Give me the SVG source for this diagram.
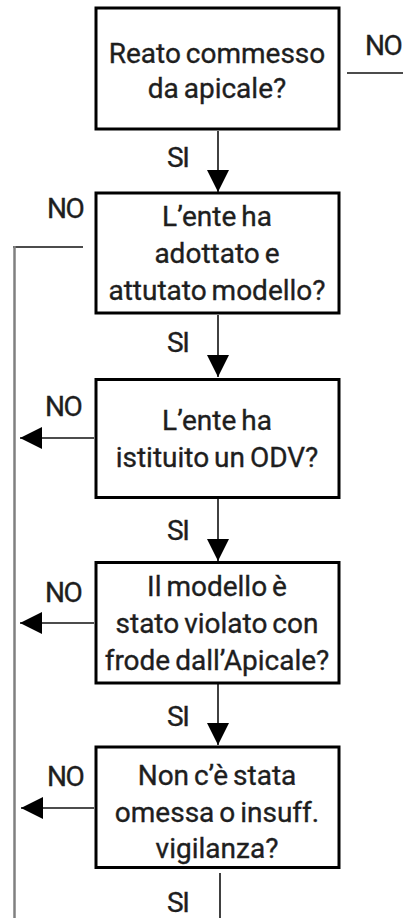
<svg xmlns="http://www.w3.org/2000/svg" width="403" height="918" viewBox="0 0 403 918">
<defs>
<style>
.box{fill:#fff;stroke:#000;stroke-width:3}
.t{font-family:Roboto,"Liberation Sans",sans-serif;font-size:28px;fill:#1e1e1e;stroke:#1e1e1e;stroke-width:0.35;text-anchor:middle;word-spacing:-2px}
.l{font-family:Roboto,"Liberation Sans",sans-serif;font-size:28px;fill:#1e1e1e;stroke:#1e1e1e;stroke-width:0.35;letter-spacing:-1.5px}
.c{stroke:#111;stroke-width:1.6;fill:none}
.g{stroke:#808080;stroke-width:2.5;fill:none}
</style>
<marker id="ah" viewBox="0 0 22 22" refX="22" refY="11" markerWidth="22" markerHeight="22" markerUnits="userSpaceOnUse" orient="auto">
<path d="M0,0 L22,11 L0,22 z" fill="#000"/>
</marker>
</defs>
<rect width="403" height="918" fill="#fff"/>
<g id="connectors">
<line class="c" x1="218" y1="131" x2="218" y2="192" marker-end="url(#ah)"/>
<line class="c" x1="218" y1="315" x2="218" y2="377" marker-end="url(#ah)"/>
<line class="c" x1="218" y1="499" x2="218" y2="561" marker-end="url(#ah)"/>
<line class="c" x1="218" y1="684" x2="218" y2="745" marker-end="url(#ah)"/>
<line class="c" x1="220" y1="873" x2="220" y2="918"/>
<line class="c" x1="94" y1="438" x2="20" y2="438" marker-end="url(#ah)"/>
<line class="c" x1="94" y1="623" x2="20" y2="623" marker-end="url(#ah)"/>
<line class="c" x1="94" y1="808" x2="21" y2="808" marker-end="url(#ah)"/>
<line class="c" x1="347" y1="73" x2="403" y2="73"/>
<line class="c" x1="13" y1="247" x2="83" y2="247"/>
<line class="g" x1="14.5" y1="246" x2="14.5" y2="918"/>
<text class="l" x="365" y="55">NO</text>
<text class="l" x="47" y="218">NO</text>
<text class="l" x="45" y="416">NO</text>
<text class="l" x="45" y="602">NO</text>
<text class="l" x="47" y="786">NO</text>
<text class="l" x="167" y="167">SI</text>
<text class="l" x="167" y="352">SI</text>
<text class="l" x="167" y="540">SI</text>
<text class="l" x="167" y="726">SI</text>
<text class="l" x="167" y="912">SI</text>
</g>
<g id="n1">
<rect class="box" x="96" y="8" width="243" height="121"/>
<text class="t" x="217" y="63">Reato commesso</text>
<text class="t" x="217" y="98">da apicale?</text>
</g>
<g id="n2">
<rect class="box" x="96" y="193" width="243" height="120"/>
<text class="t" x="217" y="226">L’ente ha</text>
<text class="t" x="217" y="263">adottato e</text>
<text class="t" x="217" y="300">attutato modello?</text>
</g>
<g id="n3">
<rect class="box" x="96" y="379.5" width="243" height="118"/>
<text class="t" x="217" y="430">L’ente ha</text>
<text class="t" x="217" y="467">istituito un ODV?</text>
</g>
<g id="n4">
<rect class="box" x="96" y="562.5" width="243" height="120.5"/>
<text class="t" x="217" y="596">Il modello è</text>
<text class="t" x="217" y="633">stato violato con</text>
<text class="t" x="217" y="670">frode dall’Apicale?</text>
</g>
<g id="n5">
<rect class="box" x="96" y="747" width="243" height="120.5"/>
<text class="t" x="217" y="785">Non c’è stata</text>
<text class="t" x="217" y="822">omessa o insuff.</text>
<text class="t" x="217" y="858">vigilanza?</text>
</g>
</svg>
